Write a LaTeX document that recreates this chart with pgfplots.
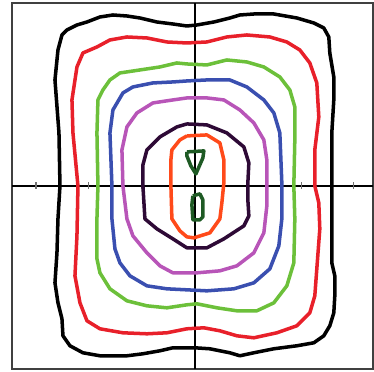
\documentclass[border=0pt]{standalone}
\usepackage{pgfplots}
\pgfplotsset{compat=1.18}
\definecolor{cred}{HTML}{E8202A}
\definecolor{cgreen}{HTML}{6CC03A}
\definecolor{cblue}{HTML}{3A4FB0}
\definecolor{cmag}{HTML}{B855B8}
\definecolor{cpurp}{HTML}{2E0A36}
\definecolor{corange}{HTML}{FF4A1A}
\definecolor{cdkgreen}{HTML}{1E5A24}

\begin{document}
\begin{tikzpicture}
  \begin{axis}[
    x=0.02cm, y=0.02cm,
    xmin=-183, xmax=178,
    ymin=-183, ymax=183,
    xtick=\empty, ytick=\empty,
    axis line style={draw=black!75, line width=1.1pt},
    clip=false,
    every axis plot/.append style={line width=2pt, line join=round, mark=none},
  ]
    % zero lines and small ticks
    \draw[black, line width=1.4pt] (axis cs:-183,0) -- (axis cs:178,0);
    \draw[black, line width=1.4pt] (axis cs:0,-183) -- (axis cs:0,183);
    \draw[black!55, line width=0.6pt] (axis cs:-159,-3) -- (axis cs:-159,4);
    \draw[black!55, line width=0.6pt] (axis cs:-106,-3) -- (axis cs:-106,4);
    \draw[black!55, line width=0.6pt] (axis cs:-53,-3) -- (axis cs:-53,4);
    \draw[black!55, line width=0.6pt] (axis cs:53,-3) -- (axis cs:53,4);
    \draw[black!55, line width=0.6pt] (axis cs:107,-3) -- (axis cs:107,4);
    \draw[black!55, line width=0.6pt] (axis cs:159,-3) -- (axis cs:159,4);

    % outermost (black)
    \addplot[black] coordinates {
      (-135,0) (-136,53) (-140,106) (-137,136) (-133,151) (-128,156)
      (-118,161) (-108,164) (-95,169) (-82,171) (-68,170) (-55,168)
      (-38,164) (-22,162) (-8,160) (2,161) (19,164) (35,168) (45,171)
      (59,172) (79,172) (102,168) (119,163) (129,158) (134,149) (135,133)
      (139,109) (139,86) (137,53) (137,0) (137,-33) (137,-77) (140,-90)
      (140,-110) (139,-127) (135,-140) (129,-150) (119,-157) (102,-160)
      (79,-163) (59,-167) (45,-170) (35,-167) (15,-163) (0,-162)
      (-22,-162) (-35,-165) (-52,-168) (-68,-170) (-95,-170) (-112,-167)
      (-125,-160) (-132,-150) (-133,-133) (-137,-117) (-140,-97)
      (-138,-67) (-137,-33) (-135,0)
    };

    % red
    \addplot[cred] coordinates {
      (-117,0) (-122,53) (-123,86) (-118,119) (-112,133) (-98,139)
      (-85,146) (-68,149) (-48,148) (-28,144) (-8,143) (12,144) (32,149)
      (52,151) (75,149) (92,144) (105,136) (115,123) (122,103) (124,69)
      (120,36) (120,0) (124,-17) (125,-43) (122,-83) (120,-110)
      (115,-127) (102,-140) (82,-147) (59,-152) (42,-150) (25,-145)
      (9,-142) (-8,-143) (-28,-147) (-48,-148) (-72,-147) (-95,-143)
      (-108,-135) (-115,-117) (-120,-90) (-118,-50) (-117,0)
    };

    % green
    \addplot[cgreen] coordinates {
      (-97,0) (-98,53) (-97,86) (-92,96) (-85,106) (-75,113) (-55,116)
      (-35,119) (-18,123) (-8,122) (12,121) (32,126) (52,124) (69,119)
      (85,109) (95,96) (100,79) (100,46) (99,0) (100,-33) (99,-77)
      (92,-100) (79,-117) (62,-125) (42,-125) (22,-122) (2,-118)
      (-8,-119) (-28,-122) (-48,-120) (-68,-115) (-85,-103) (-95,-87)
      (-98,-73) (-98,-33) (-97,0)
    };

    % blue
    \addplot[cblue] coordinates {
      (-83,0) (-85,53) (-82,76) (-72,93) (-62,99) (-42,103) (-22,104)
      (-8,105) (12,106) (35,106) (52,99) (69,86) (79,73) (85,53) (87,3)
      (87,-33) (84,-60) (75,-83) (59,-97) (39,-103) (12,-105) (-8,-104)
      (-28,-103) (-48,-100) (-65,-90) (-75,-77) (-80,-63) (-83,-33)
      (-83,0)
    };

    % magenta
    \addplot[cmag] coordinates {
      (-72,0) (-73,36) (-68,59) (-58,73) (-42,83) (-22,86) (-8,88)
      (12,88) (29,86) (45,76) (59,63) (69,46) (72,26) (72,0) (72,-20)
      (69,-47) (59,-67) (42,-80) (25,-85) (2,-87) (-22,-87) (-35,-80)
      (-48,-67) (-62,-50) (-68,-33) (-72,0)
    };

    % dark purple
    \addplot[cpurp] coordinates {
      (-8,62) (12,61) (32,53) (49,39) (54,23) (53,3) (53,-14) (54,-30)
      (49,-40) (29,-53) (12,-62) (-8,-62) (-22,-53) (-38,-43) (-50,-33)
      (-52,0) (-52,21) (-48,36) (-35,49) (-18,59) (-8,62)
    };

    % orange
    \addplot[corange] coordinates {
      (-8,50) (12,51) (25,43) (29,26) (29,3) (27,-17) (25,-33) (15,-47)
      (-1,-52) (-8,-51) (-15,-45) (-23,-33) (-24,0) (-24,26) (-23,36)
      (-15,46) (-8,50)
    };

    % innermost (dark green), two islands
    \addplot[cdkgreen] coordinates {
      (-8,34) (9,35) (8,28) (1,12) (-4,20) (-8,30) (-8,34)
    };
    \addplot[cdkgreen] coordinates {
      (-2,-10) (5,-8) (8,-14) (8,-31) (5,-34) (-2,-34) (-3,-19) (-2,-10)
    };

    % page margins as in the original
    \path (axis cs:-195,-186) rectangle (axis cs:179,186);
  \end{axis}
\end{tikzpicture}
\end{document}
